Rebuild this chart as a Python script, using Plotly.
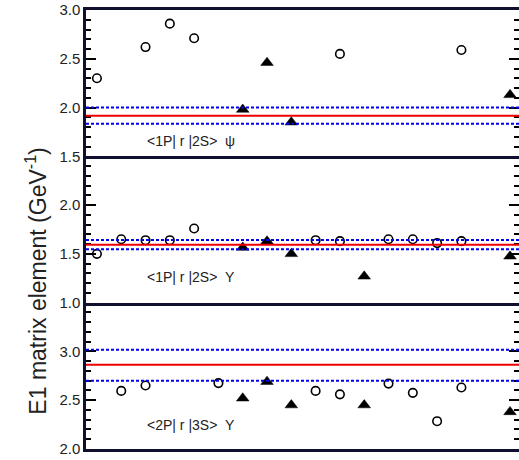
import plotly.graph_objects as go
from plotly.subplots import make_subplots

# ---- data ----
top_circ_x = [0, 2, 3, 4, 10, 15]
top_circ_y = [2.30, 2.62, 2.86, 2.71, 2.55, 2.59]
top_tri_x = [6, 7, 8, 17]
top_tri_y = [1.98, 2.46, 1.85, 2.13]
top_band = [1.835, 1.915, 2.00]   # low, mean, high

mid_circ_x = [0, 1, 2, 3, 4, 9, 10, 12, 13, 14, 15]
mid_circ_y = [1.50, 1.65, 1.64, 1.64, 1.76, 1.64, 1.63, 1.65, 1.65, 1.61, 1.63]
mid_tri_x = [6, 7, 8, 11, 17]
mid_tri_y = [1.565, 1.63, 1.50, 1.27, 1.475]
mid_band = [1.548, 1.592, 1.643]

bot_circ_x = [1, 2, 5, 9, 10, 12, 13, 14, 15]
bot_circ_y = [2.595, 2.65, 2.675, 2.595, 2.56, 2.67, 2.575, 2.285, 2.63]
bot_tri_x = [6, 7, 8, 11, 17]
bot_tri_y = [2.52, 2.69, 2.45, 2.45, 2.38]
bot_band = [2.70, 2.864, 3.017]

panel_labels = ["&lt;1P| r |2S&gt;\u00a0\u00a0ψ",
                "&lt;1P| r |2S&gt;\u00a0\u00a0Υ",
                "&lt;2P| r |3S&gt;\u00a0\u00a0Υ"]
# upper ends slightly below the shared boundary so that only one label shows there
panel_ranges = [[1.5, 3.0], [1.0, 2.499], [2.0, 3.499]]
label_y = [1.655, 1.258, 2.245]

y_title = "E1 matrix element (GeV<sup>-1</sup>)"

AX = "#10102e"
TICK = "#000000"
FONT = "Liberation Sans, Arial, sans-serif"

fig = make_subplots(rows=3, cols=1, vertical_spacing=0)

panels = [
    (top_circ_x, top_circ_y, top_tri_x, top_tri_y, top_band),
    (mid_circ_x, mid_circ_y, mid_tri_x, mid_tri_y, mid_band),
    (bot_circ_x, bot_circ_y, bot_tri_x, bot_tri_y, bot_band),
]

for i, (cx, cy, tx, ty, band) in enumerate(panels):
    row = i + 1
    fig.add_trace(go.Scatter(x=cx, y=cy, mode="markers", showlegend=False,
                             marker=dict(symbol="circle-open", size=8.5, color="black",
                                         line=dict(width=1.6, color="black"))),
                  row=row, col=1)
    fig.add_trace(go.Scatter(x=tx, y=ty, mode="markers", showlegend=False,
                             marker=dict(symbol="triangle-up", size=11, color="black",
                                         line=dict(width=0.5, color="black"))),
                  row=row, col=1)

    lo, mean, hi = band
    xref = "x" if row == 1 else f"x{row}"
    yref = "y" if row == 1 else f"y{row}"
    for val, col, dash in [(lo, "#0000ee", "3px,2px"), (hi, "#0000ee", "3px,2px"),
                           (mean, "#ee0000", "solid")]:
        fig.add_shape(type="line", xref=f"{xref} domain", yref=yref,
                      x0=0, x1=1, y0=val, y1=val,
                      line=dict(color=col, width=2, dash=dash))

    fig.add_annotation(x=1.96, y=label_y[i], xref=xref, yref=yref,
                       text=panel_labels[i], showarrow=False,
                       xanchor="left", yanchor="middle",
                       font=dict(family=FONT, size=14, color="#222"))

    fig.update_xaxes(domain=[0, 1], range=[-0.45, 17.37], showline=True,
                     mirror=(row == 1), automargin=False,
                     linecolor=AX, linewidth=2.5, ticks="", showticklabels=False,
                     showgrid=False, zeroline=False, row=row, col=1)
    fig.update_yaxes(range=panel_ranges[i], dtick=0.5, tick0=0,
                     tickformat=".1f", automargin=False,
                     showline=True, mirror="allticks", linecolor=AX, linewidth=2.5,
                     ticks="inside", ticklen=10, tickwidth=2, tickcolor=TICK,
                     minor=dict(dtick=0.1, ticks="inside", ticklen=5, tickwidth=2,
                                tickcolor=TICK),
                     showgrid=False, zeroline=False,
                     tickfont=dict(family=FONT, size=15, color="#222"),
                     row=row, col=1)

fig.add_annotation(xref="paper", yref="paper", x=-0.116, y=0.383,
                   text=y_title, textangle=-90, showarrow=False,
                   xanchor="center", yanchor="middle",
                   font=dict(family=FONT, size=23, color="#222"))

fig.update_layout(width=519, height=460,
                  margin=dict(l=86, r=0, t=10, b=11),
                  paper_bgcolor="white", plot_bgcolor="white",
                  showlegend=False)

fig.write_html("out.html")
